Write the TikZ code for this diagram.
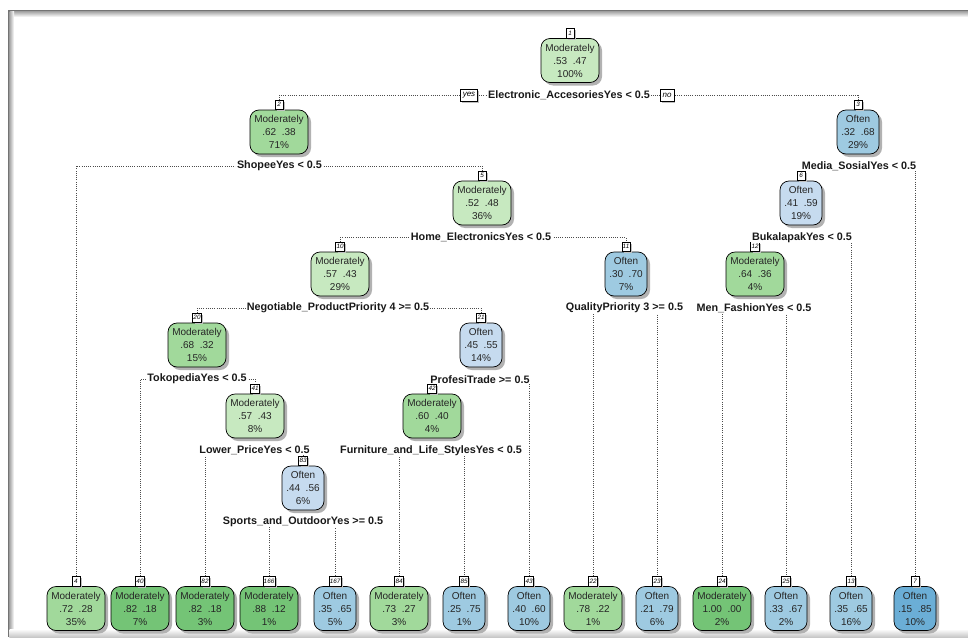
\documentclass[tikz,border=0pt]{standalone}
\usepackage{fontspec}
\setmainfont{Liberation Sans}
\usetikzlibrary{shadows}
\pgfdeclarelayer{bg}
\pgfdeclarelayer{frame}
\pgfsetlayers{frame,bg,main}
\definecolor{gL}{RGB}{199,233,192}
\definecolor{gM}{RGB}{161,217,155}
\definecolor{gD}{RGB}{116,196,118}
\definecolor{bL}{RGB}{198,219,239}
\definecolor{bM}{RGB}{158,202,225}
\definecolor{bD}{RGB}{107,174,214}
\tikzset{
 tbox/.style={draw=black, line width=0.7pt, rounded corners=9pt, minimum height=44pt, inner sep=0pt, align=center,
   font=\fontsize{10}{13}\selectfont, text=black!85,
   drop shadow={shadow xshift=3pt, shadow yshift=-3pt, fill=black!30, opacity=1}},
 mod/.style={tbox, minimum width=58pt},
 oft/.style={tbox, minimum width=42pt},
 numbox/.style={draw=black, line width=0.5pt, fill=white, inner sep=0.8pt, minimum height=9.5pt, minimum width=8pt,
   font=\fontsize{6.3}{7}\selectfont\itshape,
   drop shadow={shadow xshift=2pt, shadow yshift=-2pt, fill=black!25, opacity=1}},
 split/.style={fill=white, inner sep=0.6pt, font=\fontsize{10.8}{12}\selectfont\bfseries, text=black!90},
 ynbox/.style={draw=black, line width=0.5pt, fill=white, inner xsep=2.5pt, inner ysep=1pt, minimum height=12pt,
   font=\fontsize{8}{9}\selectfont\itshape,
   drop shadow={shadow xshift=1.5pt, shadow yshift=-1.5pt, fill=black!25, opacity=1}},
 edge/.style={draw=black!70, line width=0.6pt, dash pattern=on 0.7pt off 1.5pt},
}
\newcommand\treenode[6]{%
 \node[#2] (n#1) at (#3,#4) {#5};
 \node[numbox, anchor=south] (k#1) at (n#1.north) {#6};}
\newcommand\pp[2]{#1\hspace{5.5pt}#2}
\begin{document}
\begin{tikzpicture}[x=1pt,y=-1pt]
\useasboundingbox (0,0) rectangle (968,637);
% frame
\begin{pgfonlayer}{frame}
\fill[white] (0,0) rectangle (968,637);
\fill[black!55] (8,10) rectangle (968,11.5);
\shade[top color=black!35, bottom color=white] (8,11.5) rectangle (968,17);
\fill[black!55] (8,10) rectangle (9.5,637);
\shade[left color=black!35, right color=white] (9.5,11.5) rectangle (14,637);
\shade[top color=white, bottom color=black!22] (9.5,629) rectangle (968,637);
\end{pgfonlayer}

% internal nodes
\treenode{1}{mod,fill=gL}{570}{60.5}{Moderately\\\pp{.53}{.47}\\100\%}{1}
\treenode{2}{mod,fill=gM}{279}{132}{Moderately\\\pp{.62}{.38}\\71\%}{2}
\treenode{3}{oft,fill=bM}{858}{132}{Often\\\pp{.32}{.68}\\29\%}{3}
\treenode{5}{mod,fill=gL}{482}{203}{Moderately\\\pp{.52}{.48}\\36\%}{5}
\treenode{6}{oft,fill=bL}{801}{203}{Often\\\pp{.41}{.59}\\19\%}{6}
\treenode{10}{mod,fill=gL}{340}{274}{Moderately\\\pp{.57}{.43}\\29\%}{10}
\treenode{11}{oft,fill=bM}{626}{274}{Often\\\pp{.30}{.70}\\7\%}{11}
\treenode{12}{mod,fill=gM}{755}{274}{Moderately\\\pp{.64}{.36}\\4\%}{12}
\treenode{20}{mod,fill=gM}{197}{345}{Moderately\\\pp{.68}{.32}\\15\%}{20}
\treenode{21}{oft,fill=bL}{481}{345}{Often\\\pp{.45}{.55}\\14\%}{21}
\treenode{41}{mod,fill=gL}{255}{416}{Moderately\\\pp{.57}{.43}\\8\%}{41}
\treenode{42}{mod,fill=gM}{432}{416}{Moderately\\\pp{.60}{.40}\\4\%}{42}
\treenode{83}{oft,fill=bL}{303}{488}{Often\\\pp{.44}{.56}\\6\%}{83}
% leaves
\treenode{4}{mod,fill=gM}{76}{608.5}{Moderately\\\pp{.72}{.28}\\35\%}{4}
\treenode{40}{mod,fill=gD}{140}{608.5}{Moderately\\\pp{.82}{.18}\\7\%}{40}
\treenode{82}{mod,fill=gD}{205}{608.5}{Moderately\\\pp{.82}{.18}\\3\%}{82}
\treenode{166}{mod,fill=gD}{269}{608.5}{Moderately\\\pp{.88}{.12}\\1\%}{166}
\treenode{167}{oft,fill=bM}{335}{608.5}{Often\\\pp{.35}{.65}\\5\%}{167}
\treenode{84}{mod,fill=gM}{399}{608.5}{Moderately\\\pp{.73}{.27}\\3\%}{84}
\treenode{85}{oft,fill=bM}{464}{608.5}{Often\\\pp{.25}{.75}\\1\%}{85}
\treenode{43}{oft,fill=bM}{529}{608.5}{Often\\\pp{.40}{.60}\\10\%}{43}
\treenode{22}{mod,fill=gM}{593}{608.5}{Moderately\\\pp{.78}{.22}\\1\%}{22}
\treenode{23}{oft,fill=bM}{657}{608.5}{Often\\\pp{.21}{.79}\\6\%}{23}
\treenode{24}{mod,fill=gD}{722}{608.5}{Moderately\\\pp{1.00}{.00}\\2\%}{24}
\treenode{25}{oft,fill=bM}{786}{608.5}{Often\\\pp{.33}{.67}\\2\%}{25}
\treenode{13}{oft,fill=bM}{851}{608.5}{Often\\\pp{.35}{.65}\\16\%}{13}
\treenode{7}{oft,fill=bD}{915}{608.5}{Often\\\pp{.15}{.85}\\10\%}{7}

% split labels
\node[split] (s1) at (569,95) {Electronic\_AccesoriesYes < 0.5};
\node[ynbox] (yes) at (469,95) {yes};
\node[ynbox] (no) at (667,95) {no};
\node[split] (s2) at (279.5,166) {ShopeeYes < 0.5};
\node[split] (s3) at (859,166) {Media\_SosialYes < 0.5};
\node[split] (s5) at (481,237.5) {Home\_ElectronicsYes < 0.5};
\node[split] (s6) at (802,237.5) {BukalapakYes < 0.5};
\node[split] (s10) at (338,308) {Negotiable\_ProductPriority 4 >= 0.5};
\node[split] (s11) at (624.5,308) {QualityPriority 3 >= 0.5};
\node[split] (s12) at (754,308) {Men\_FashionYes < 0.5};
\node[split] (s20) at (197,379) {TokopediaYes < 0.5};
\node[split] (s21) at (480,379.5) {ProfesiTrade >= 0.5};
\node[split] (s41) at (254.5,450) {Lower\_PriceYes < 0.5};
\node[split] (s42) at (431,450.5) {Furniture\_and\_Life\_StylesYes < 0.5};
\node[split] (s83) at (303,521.5) {Sports\_and\_OutdoorYes >= 0.5};

% connectors
\begin{pgfonlayer}{bg}
\foreach \s/\l/\r in {1/2/3, 2/4/5, 3/6/7, 5/10/11, 6/12/13, 10/20/21, 11/22/23, 12/24/25,
  20/40/41, 21/42/43, 41/82/83, 42/84/85, 83/166/167}{
  \draw[edge] (k\l.north) -- (k\l.north |- s\s.center) -- (k\r.north |- s\s.center) -- (k\r.north);
}
\end{pgfonlayer}
\end{tikzpicture}
\end{document}
